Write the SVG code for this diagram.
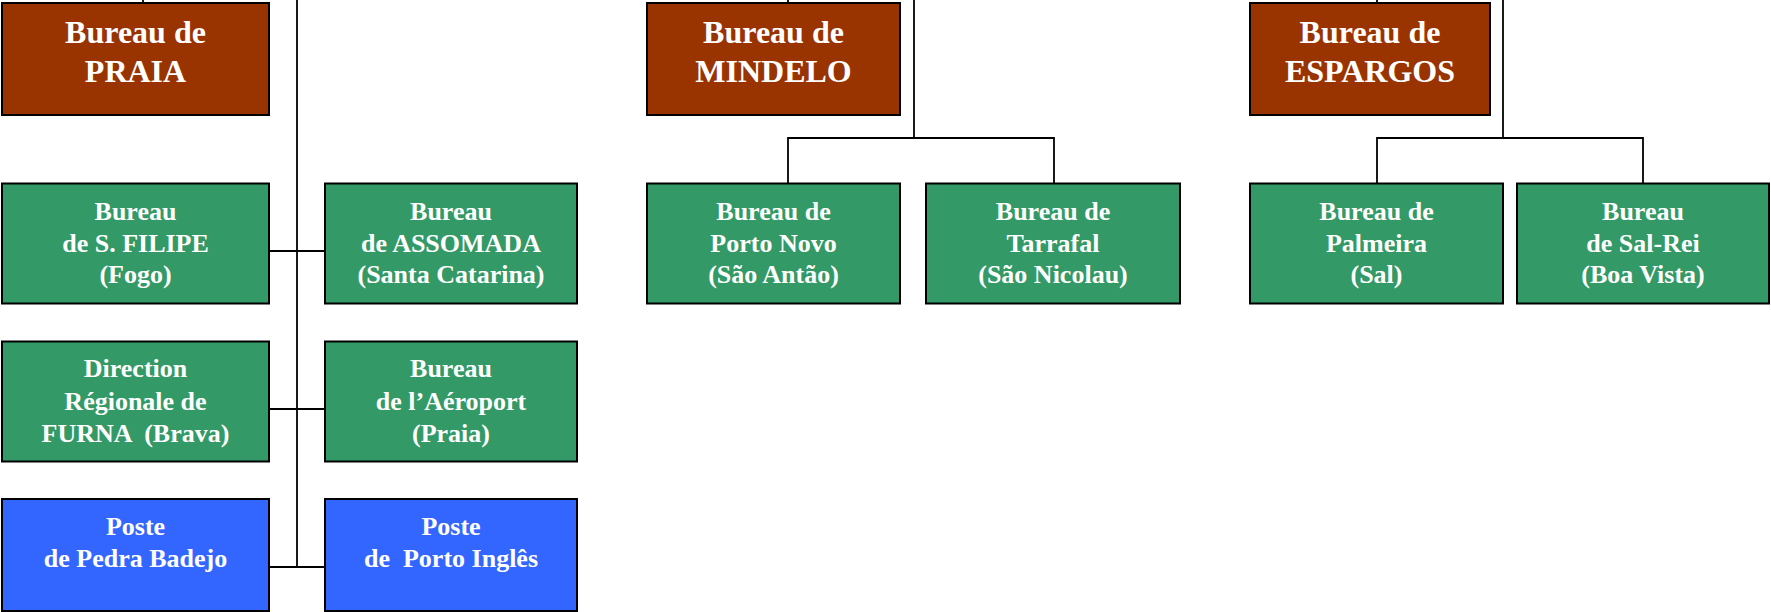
<svg xmlns="http://www.w3.org/2000/svg" width="1771" height="612" viewBox="0 0 1771 612">
<style>
  .box { stroke: #000; stroke-width: 2; }
  .hq { fill: #993300; }
  .gr { fill: #339966; }
  .bl { fill: #3366FF; }
  text { font-family: "Liberation Serif", "Times New Roman", serif; font-weight: bold; fill: #fff; text-anchor: middle; white-space: pre; }
  .t1 { font-size: 32px; }
  .t2 { font-size: 26px; }
  .conn { stroke: #000; stroke-width: 1.8; fill: none; }
</style>
<rect x="0" y="0" width="1771" height="612" fill="#fff"/>
<g id="connectors" class="conn">
  <path d="M143 0 V3"/>
  <path d="M297 0 V567"/>
  <path d="M269 251 H325"/>
  <path d="M269 409 H325"/>
  <path d="M269 567 H325"/>
  <path d="M788 0 V3"/>
  <path d="M914 0 V138"/>
  <path d="M788 183 V138 H1054 V183"/>
  <path d="M1377 0 V3"/>
  <path d="M1503 0 V138"/>
  <path d="M1377 183 V138 H1643 V183"/>
</g>
<g id="praia">
  <rect class="box hq" x="2" y="3" width="267" height="112"/>
  <text class="t1" x="135.5" y="43">Bureau de</text>
  <text class="t1" x="135.5" y="82">PRAIA</text>
</g>
<g id="mindelo">
  <rect class="box hq" x="647" y="3" width="253" height="112"/>
  <text class="t1" x="773.5" y="43">Bureau de</text>
  <text class="t1" x="773.5" y="82">MINDELO</text>
</g>
<g id="espargos">
  <rect class="box hq" x="1250" y="3" width="240" height="112"/>
  <text class="t1" x="1370" y="43">Bureau de</text>
  <text class="t1" x="1370" y="82">ESPARGOS</text>
</g>
<g id="sfilipe">
  <rect class="box gr" x="2" y="183.5" width="267" height="120"/>
  <text class="t2" x="135.5" y="220">Bureau</text>
  <text class="t2" x="135.5" y="252">de S. FILIPE</text>
  <text class="t2" x="135.5" y="283">(Fogo)</text>
</g>
<g id="assomada">
  <rect class="box gr" x="325" y="183.5" width="252" height="120"/>
  <text class="t2" x="451" y="220">Bureau</text>
  <text class="t2" x="451" y="252">de ASSOMADA</text>
  <text class="t2" x="451" y="283">(Santa Catarina)</text>
</g>
<g id="furna">
  <rect class="box gr" x="2" y="341.5" width="267" height="120"/>
  <text class="t2" x="135.5" y="377">Direction</text>
  <text class="t2" x="135.5" y="409.5">Régionale de</text>
  <text class="t2" x="135.5" y="442">FURNA  (Brava)</text>
</g>
<g id="aeroport">
  <rect class="box gr" x="325" y="341.5" width="252" height="120"/>
  <text class="t2" x="451" y="377">Bureau</text>
  <text class="t2" x="451" y="409.5">de l’Aéroport</text>
  <text class="t2" x="451" y="442">(Praia)</text>
</g>
<g id="pedra-badejo">
  <rect class="box bl" x="2" y="499" width="267" height="112"/>
  <text class="t2" x="135.5" y="535">Poste</text>
  <text class="t2" x="135.5" y="567">de Pedra Badejo</text>
</g>
<g id="porto-ingles">
  <rect class="box bl" x="325" y="499" width="252" height="112"/>
  <text class="t2" x="451" y="535">Poste</text>
  <text class="t2" x="451" y="567">de  Porto Inglês</text>
</g>
<g id="porto-novo">
  <rect class="box gr" x="647" y="183.5" width="253" height="120"/>
  <text class="t2" x="773.5" y="220">Bureau de</text>
  <text class="t2" x="773.5" y="252">Porto Novo</text>
  <text class="t2" x="773.5" y="283">(São Antão)</text>
</g>
<g id="tarrafal">
  <rect class="box gr" x="926" y="183.5" width="254" height="120"/>
  <text class="t2" x="1053" y="220">Bureau de</text>
  <text class="t2" x="1053" y="252">Tarrafal</text>
  <text class="t2" x="1053" y="283">(São Nicolau)</text>
</g>
<g id="palmeira">
  <rect class="box gr" x="1250" y="183.5" width="253" height="120"/>
  <text class="t2" x="1376.5" y="220">Bureau de</text>
  <text class="t2" x="1376.5" y="252">Palmeira</text>
  <text class="t2" x="1376.5" y="283">(Sal)</text>
</g>
<g id="sal-rei">
  <rect class="box gr" x="1517" y="183.5" width="252" height="120"/>
  <text class="t2" x="1643" y="220">Bureau</text>
  <text class="t2" x="1643" y="252">de Sal-Rei</text>
  <text class="t2" x="1643" y="283">(Boa Vista)</text>
</g>
</svg>
